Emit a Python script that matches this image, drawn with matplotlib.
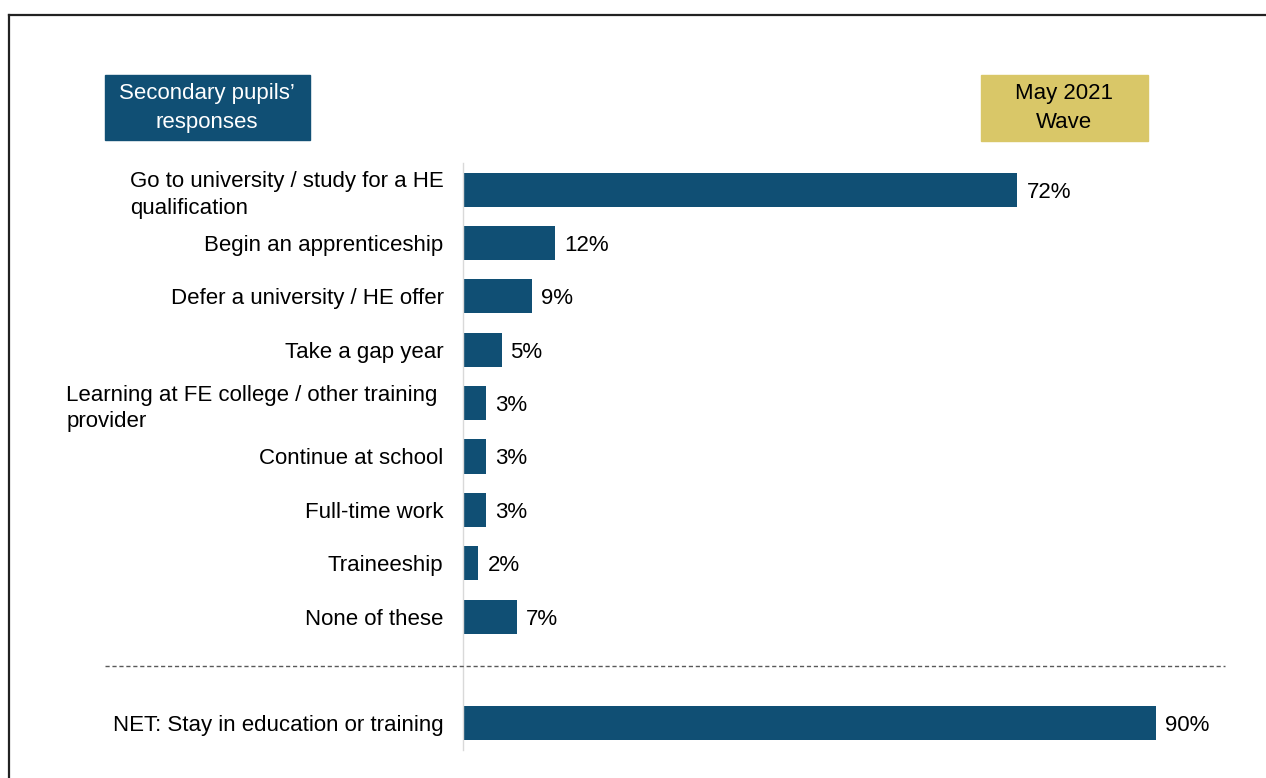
import matplotlib
matplotlib.use('Agg')
import matplotlib.pyplot as plt
import matplotlib.transforms as mtransforms
from matplotlib.patches import Rectangle
from matplotlib.lines import Line2D

plt.rcParams['font.family'] = ['Liberation Sans', 'DejaVu Sans']

# Réponses des élèves du secondaire (vague de mai 2021)
categories = [
    'Go to university / study for a HE\nqualification',
    'Begin an apprenticeship',
    'Defer a university / HE offer',
    'Take a gap year',
    'Learning at FE college / other training\nprovider',
    'Continue at school',
    'Full-time work',
    'Traineeship',
    'None of these',
]
valeurs = [72, 12, 9, 5, 3, 3, 3, 2, 7]
net_label = 'NET: Stay in education or training'
net_valeur = 90

bleu = '#104f74'
or_clair = '#d9c768'
taille = 16

W, H = 1266, 778
fig = plt.figure(figsize=(W / 100, H / 100), dpi=100)
ax = fig.add_axes([463 / W, 28 / H, 770 / W, 587 / H])

positions = list(range(len(categories))) + [len(categories) + 1]
toutes_valeurs = valeurs + [net_valeur]
tous_labels = categories + [net_label]

barres = ax.barh(positions, toutes_valeurs, height=0.64, color=bleu)
for b, v in zip(barres, toutes_valeurs):
    ax.annotate(f'{v}%', (b.get_width(), b.get_y() + b.get_height() / 2),
                xytext=(6.5, 0), textcoords='offset points',
                va='center_baseline', ha='left', fontsize=taille, color='black')

ax.set_xlim(0, 100)
ax.set_ylim(len(categories) + 1.5, -0.5)
ax.set_yticks(positions)
ax.set_yticklabels(tous_labels, fontsize=taille)
ax.tick_params(axis='y', length=0, pad=14)
for t in ax.get_yticklabels():
    t.set_multialignment('left')
    t.set_linespacing(1.35)
# le libellé FE est un peu plus à gauche
decalage = mtransforms.ScaledTranslation(-6 / 100, 0, fig.dpi_scale_trans)
lab_fe = ax.get_yticklabels()[4]
lab_fe.set_transform(lab_fe.get_transform() + decalage)
ax.set_xticks([])
for s in ['top', 'right', 'bottom']:
    ax.spines[s].set_visible(False)
ax.spines['left'].set_color('#d9d9d9')
ax.spines['left'].set_linewidth(1)

# ligne pointillée entre les réponses et le NET
trans = mtransforms.blended_transform_factory(fig.transFigure, ax.transData)
fig.add_artist(Line2D([105 / W, 1225 / W], [8.93, 8.93],
                      transform=trans, color='#595959', lw=1, ls=(0, (3, 2))))

# cartouches d'en-tête
fig.add_artist(Rectangle((105 / W, 1 - 140 / H), 205 / W, 65 / H,
                         transform=fig.transFigure, color=bleu))
fig.text(207 / W, 1 - 108 / H, 'Secondary pupils’\nresponses', color='white',
         ha='center', va='center', fontsize=taille, linespacing=1.45)
fig.add_artist(Rectangle((981 / W, 1 - 141 / H), 167 / W, 66 / H,
                         transform=fig.transFigure, color=or_clair))
fig.text(1064 / W, 1 - 108 / H, 'May 2021\nWave', color='black',
         ha='center', va='center', fontsize=taille, linespacing=1.45)

# cadre
fig.add_artist(Line2D([9 / W, 1], [1 - 15 / H, 1 - 15 / H],
                      transform=fig.transFigure, color='#222222', lw=1.6))
fig.add_artist(Line2D([9 / W, 9 / W], [0, 1 - 15 / H],
                      transform=fig.transFigure, color='#222222', lw=1.6))

fig.savefig('out.png', dpi=100)
